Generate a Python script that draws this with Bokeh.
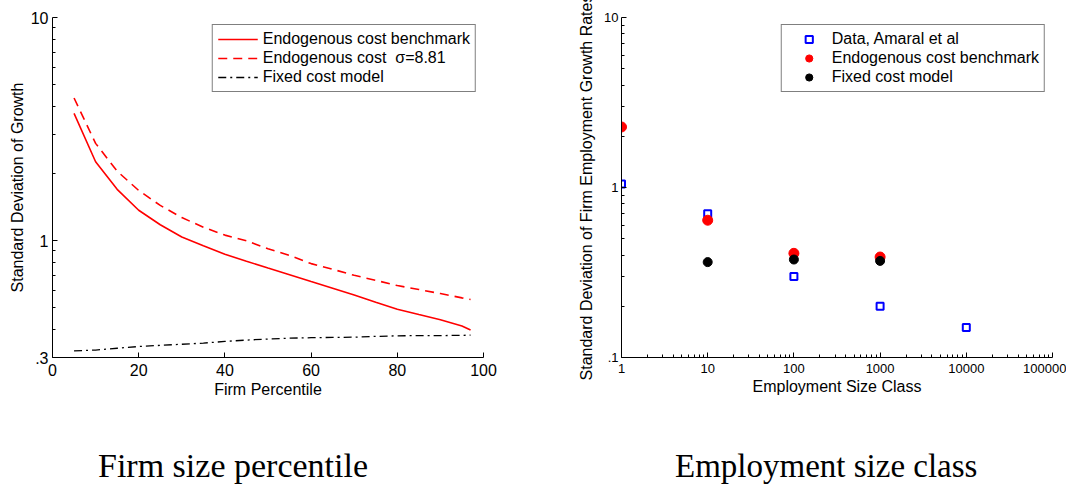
import numpy as np
from bokeh.plotting import figure
from bokeh.layouts import row, column
from bokeh.models import FixedTicker, CustomJSTickFormatter, Div
from bokeh.embed import file_html
from bokeh.resources import INLINE

FONT = "Liberation Sans"
SERIF = "Liberation Serif"

# left panel: standard deviation of growth by firm percentile
percentile = [5, 10, 15, 20, 25, 30, 35, 40, 45, 50, 55, 60, 65, 70, 75, 80, 85, 90, 95, 97]
endog_bench = [3.72, 2.26, 1.70, 1.37, 1.18, 1.04, 0.95, 0.87, 0.81, 0.755, 0.705, 0.657,
               0.613, 0.572, 0.53, 0.493, 0.467, 0.443, 0.415, 0.398]
endog_sigma = [4.36, 2.73, 2.05, 1.68, 1.44, 1.27, 1.15, 1.06, 1.0, 0.92, 0.86, 0.79,
               0.745, 0.70, 0.665, 0.63, 0.605, 0.58, 0.555, 0.546]
fixed_cost = [0.321, 0.324, 0.330, 0.336, 0.340, 0.344, 0.348, 0.354, 0.359, 0.363, 0.366,
              0.368, 0.369, 0.370, 0.373, 0.375, 0.376, 0.376, 0.377, 0.378]

# right panel: standard deviation by employment size class
size_data = [1, 10, 100, 1000, 10000]
amaral = [1.05, 0.70, 0.30, 0.20, 0.15]
size_endog = [1, 10, 100, 1000]
endog_model = [2.27, 0.642, 0.41, 0.39]
size_fixed = [10, 100, 1000]
fixed_model = [0.364, 0.377, 0.37]

# ticks
left_xticks = [0, 20, 40, 60, 80, 100]
left_yticks = [0.3, 1, 10]
left_yminor = [0.4, 0.5, 0.6, 0.7, 0.8, 0.9, 2, 3, 4, 5, 6, 7, 8, 9]
right_xticks = [1, 10, 100, 1000, 10000, 100000]
right_xminor = [m * 10 ** k for k in range(5) for m in range(2, 10)]
right_yticks = [0.1, 1, 10]
right_yminor = [0.2, 0.3, 0.4, 0.5, 0.6, 0.7, 0.8, 0.9, 2, 3, 4, 5, 6, 7, 8, 9]

fmt = CustomJSTickFormatter(code="""
if (tick < 1) { return String(tick).replace('0.', '.'); }
return String(Math.round(tick));
""")


def style_axis(ax, tick_size):
    ax.axis_line_color = "black"
    ax.axis_line_width = 1
    ax.major_tick_in = 5
    ax.major_tick_out = 0
    ax.minor_tick_in = 3
    ax.minor_tick_out = 0
    ax.major_tick_line_color = "black"
    ax.minor_tick_line_color = "black"
    ax.major_label_text_font = FONT
    ax.major_label_text_font_size = tick_size
    ax.major_label_text_color = "black"
    ax.axis_label_text_font = FONT
    ax.axis_label_text_font_size = "16px"
    ax.axis_label_text_font_style = "normal"
    ax.axis_label_text_color = "black"


def style_legend(p, glyph_width, standoff):
    lg = p.legend[0]
    lg.location = "top_right"
    lg.margin = 7
    lg.padding = 5
    lg.spacing = 1
    lg.label_height = 18
    lg.glyph_height = 18
    lg.glyph_width = glyph_width
    lg.label_standoff = standoff
    lg.label_text_font = FONT
    lg.label_text_font_size = "16px"
    lg.label_text_color = "black"
    lg.border_line_color = "black"
    lg.border_line_width = 1.5
    lg.background_fill_color = "white"
    lg.background_fill_alpha = 1


# ---- left figure
p1 = figure(width=546, height=408, y_axis_type="log",
            x_range=(0, 100), y_range=(0.3, 10),
            output_backend="svg", toolbar_location=None,
            min_border_left=52, min_border_right=63,
            min_border_top=17, min_border_bottom=51)
p1.outline_line_color = None
p1.grid.visible = False

p1.line(percentile, endog_bench, line_color="red", line_width=1.6,
        legend_label="Endogenous cost benchmark")
p1.line(percentile, endog_sigma, line_color="red", line_width=1.6, line_dash="9 6",
        legend_label="Endogenous cost  \u03c3=8.81")
p1.line(percentile, fixed_cost, line_color="black", line_width=1.3, line_dash="8 4 2 4",
        legend_label="Fixed cost model")

p1.xaxis.ticker = FixedTicker(ticks=left_xticks)
p1.yaxis.ticker = FixedTicker(ticks=left_yticks, minor_ticks=left_yminor)
p1.yaxis.formatter = fmt
p1.xaxis.axis_label = "Firm Percentile"
p1.yaxis.axis_label = "Standard Deviation of Growth"
for ax in p1.axis:
    style_axis(ax, "16px")
p1.xaxis.minor_tick_line_color = None
p1.xaxis.major_label_standoff = 6
p1.xaxis.axis_label_standoff = 2
p1.yaxis.major_label_standoff = 4
p1.yaxis.axis_label_standoff = 2
style_legend(p1, 40, 5)

# ---- right figure
p2 = figure(width=520, height=408, x_axis_type="log", y_axis_type="log",
            x_range=(1, 100000), y_range=(0.1, 10),
            output_backend="svg", toolbar_location=None,
            min_border_left=75, min_border_right=14,
            min_border_top=17, min_border_bottom=51)
p2.outline_line_color = None
p2.grid.visible = False

p2.scatter(size_data, amaral, marker="square", size=7, fill_color="white",
           line_color="blue", line_width=2, legend_label="Data, Amaral et al")
p2.scatter(size_endog, endog_model, marker="circle", size=10, fill_color="red",
           line_color="red", legend_label="Endogenous cost benchmark")
p2.scatter(size_fixed, fixed_model, marker="circle", size=9, fill_color="black",
           line_color="black", legend_label="Fixed cost model")

p2.xaxis.ticker = FixedTicker(ticks=right_xticks, minor_ticks=right_xminor)
p2.xaxis.formatter = fmt
p2.yaxis.ticker = FixedTicker(ticks=right_yticks, minor_ticks=right_yminor)
p2.yaxis.formatter = fmt
p2.xaxis.axis_label = "Employment Size Class"
p2.yaxis.axis_label = "Standard Deviation of Firm Employment Growth Rates"
for ax in p2.axis:
    style_axis(ax, "13px")
p2.xaxis.major_label_standoff = 6
p2.xaxis.axis_label_standoff = 2
p2.yaxis.major_label_standoff = 3
p2.yaxis.axis_label_standoff = 6
style_legend(p2, 44, 1)

# ---- captions under each panel
cap_style = {"font-family": SERIF, "font-size": "34px", "color": "black",
             "white-space": "nowrap", "line-height": "1.1"}
cap1 = Div(text="Firm size percentile", width=448, height=40,
           margin=(39, 0, 0, 98), styles=cap_style)
cap2 = Div(text="Employment size class", width=395, height=40,
           margin=(40, 0, 0, 129), styles=dict(cap_style, **{"font-size": "33px"}))

layout = column(row(p1, p2), row(cap1, cap2), spacing=0)
open("out.html", "w").write(file_html(layout, INLINE))
